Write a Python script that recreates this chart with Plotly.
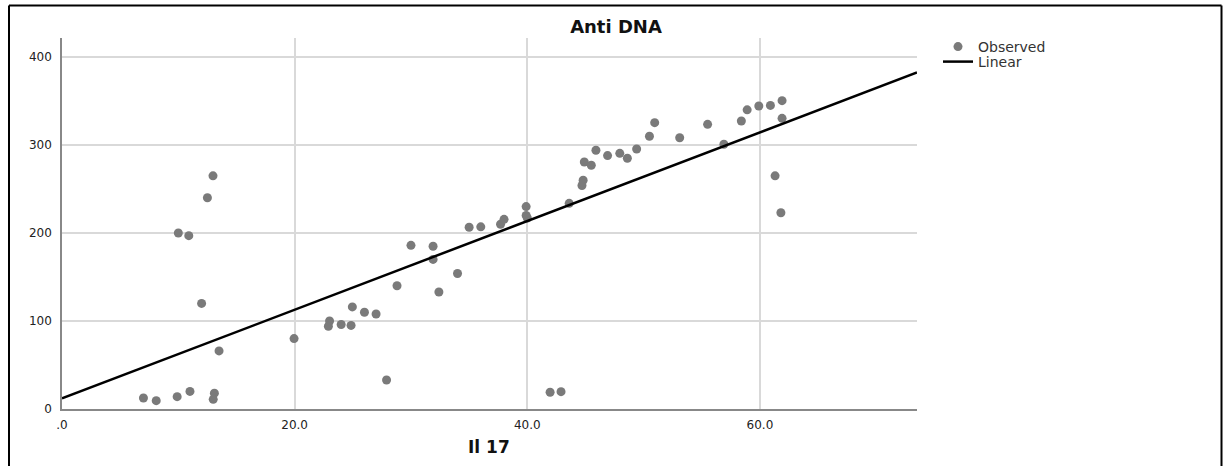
import plotly.graph_objects as go

il17 = [12.98, 12.5, 10.0, 10.9, 12.0, 13.5, 7.0, 8.1, 9.9, 11.0, 13.1, 13.0,
        19.95, 23.0, 22.9, 24.0, 24.85, 24.96, 26.0, 27.0, 27.9, 28.8, 30.0, 31.9,
        31.9, 34.0, 32.4,
        35.0, 36.0, 37.7, 38.0, 39.9, 39.9, 40.0, 43.6, 44.8, 44.7,
        44.9, 45.5, 45.9, 46.9, 47.95, 48.6, 49.4, 50.5, 50.95, 53.1, 55.5, 56.9,
        58.4, 58.9, 59.9, 60.9, 61.9, 61.9, 61.3, 61.8,
        41.96, 42.9]
anti_dna = [265, 240, 200, 197, 120, 66, 12.5, 9.5, 14, 20, 18, 11,
            80, 100, 94, 96, 95, 116, 110, 108, 33, 140, 186, 185,
            170, 154, 133,
            206.5, 207, 210, 215.5, 230, 220, 217, 233.7, 260, 254,
            280.7, 277, 294, 288, 290.5, 285, 295.5, 310, 325.4, 308.3, 323.5, 300.8,
            327.3, 340, 344.3, 345, 350.4, 330.3, 265, 223,
            19, 19.7]

# Linear fit
fit_intercept = 12.0
fit_slope = 5.04
x_range = [0, 73.5]
y_range = [0, 421.6]

x_ticks = [0, 20, 40, 60]
x_ticktext = [".0", "20.0", "40.0", "60.0"]
y_ticks = [0, 100, 200, 300, 400]

fit_x = x_range
fit_y = [fit_intercept + fit_slope * v for v in fit_x]

FONT = "DejaVu Sans, Liberation Sans, Arial, sans-serif"

W, H = 1227, 466
L, R, T, B = 62, 917, 38, 409
pw, ph = R - L, B - T


def px_x(px):
    return (px - L) / pw


def px_y(py):
    return (B - py) / ph


fig = go.Figure()
fig.add_trace(go.Scatter(
    x=il17, y=anti_dna, mode="markers", name="Observed",
    marker=dict(color="#7a7a7a", size=9, line=dict(width=0)),
    cliponaxis=False, legend="legend",
))
fig.add_trace(go.Scatter(
    x=fit_x, y=fit_y, mode="lines", name="Linear",
    line=dict(color="black", width=2.5), legend="legend2",
))

border = dict(color="black", width=2)
fig.add_shape(type="line", xref="paper", yref="paper",
              x0=px_x(9), x1=px_x(1221.5), y0=px_y(5.5), y1=px_y(5.5), line=border)
fig.add_shape(type="line", xref="paper", yref="paper",
              x0=px_x(9), x1=px_x(9), y0=px_y(5.5), y1=px_y(480), line=border)
fig.add_shape(type="line", xref="paper", yref="paper",
              x0=px_x(1221.5), x1=px_x(1221.5), y0=px_y(5.5), y1=px_y(480), line=border)

# x-axis title
fig.add_annotation(text="<b>Il 17</b>", xref="paper", yref="paper",
                   x=px_x(489), y=px_y(447), xanchor="center", yanchor="middle",
                   showarrow=False, font=dict(family=FONT, size=17, color="#111111"))

leg_common = dict(xanchor="left", yanchor="middle", bgcolor="rgba(0,0,0,0)",
                  font=dict(family=FONT, size=14, color="#333333"), itemwidth=30,
                  borderwidth=0)

fig.update_layout(
    width=W, height=H,
    margin=dict(l=L, r=W - R, t=T, b=H - B, pad=0),
    paper_bgcolor="white", plot_bgcolor="white",
    font=dict(family=FONT, size=12, color="#222222"),
    title=dict(text="<b>Anti DNA</b>", x=px_x(616), xref="paper",
               y=1 - 27 / H, yref="container",
               xanchor="center", yanchor="middle",
               font=dict(family=FONT, size=18, color="#111111")),
    showlegend=True,
    legend=dict(x=px_x(938), y=px_y(47), **leg_common),
    legend2=dict(x=px_x(938), y=px_y(62), **leg_common),
    xaxis=dict(range=x_range, tickvals=x_ticks, ticktext=x_ticktext,
               showgrid=True, gridcolor="#d9d9d9", gridwidth=1.5,
               showline=True, linecolor="#888888", linewidth=1.5,
               zeroline=False, ticks="", ticklabelstandoff=4,
               tickfont=dict(family=FONT, size=12, color="#222222")),
    yaxis=dict(range=y_range, tickvals=y_ticks,
               showgrid=True, gridcolor="#d9d9d9", gridwidth=1.5,
               showline=True, linecolor="#888888", linewidth=1.5,
               zeroline=False, ticks="", ticklabelstandoff=6,
               tickfont=dict(family=FONT, size=12, color="#222222")),
)

fig.write_html(
    "out.html",
    config={"displayModeBar": False},
    post_script="document.body.style.margin='0';document.body.style.overflow='hidden';",
)
